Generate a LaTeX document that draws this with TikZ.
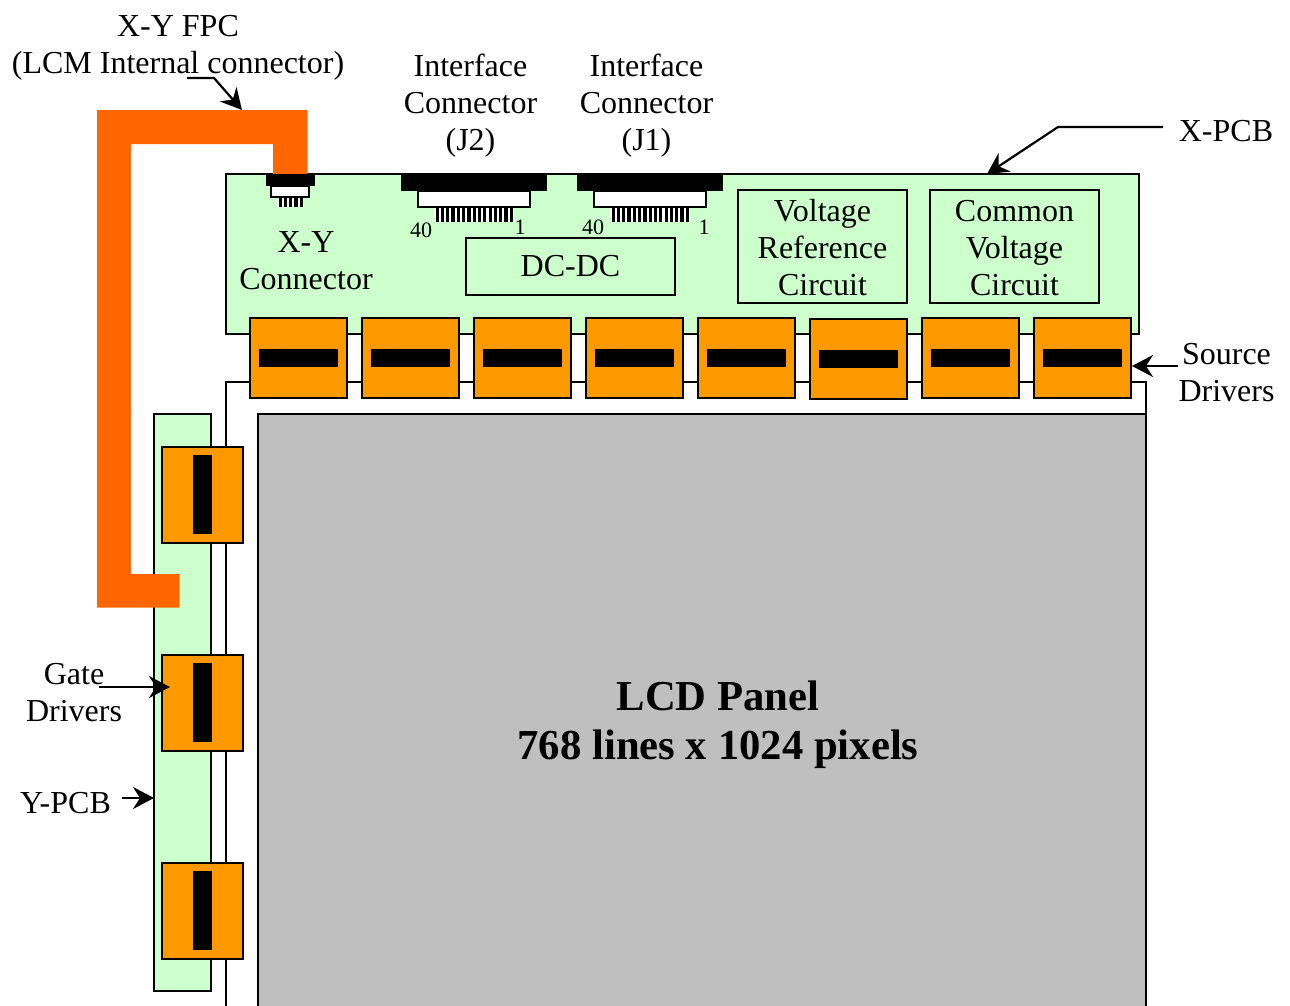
\documentclass[tikz,border=0pt]{standalone}
\usepackage{fontspec}
\setmainfont{Liberation Serif}
\usetikzlibrary{arrows.meta}
\definecolor{pcbgreen}{HTML}{CCFFCC}
\definecolor{drvorange}{HTML}{FF9900}
\definecolor{fpcorange}{HTML}{FF6600}
\definecolor{panelgray}{HTML}{BFBFBF}
\tikzset{
	every node/.style={inner sep=0, outer sep=0},
	lbl/.style={align=center, font=\fontsize{32}{37}\selectfont},
	pinlbl/.style={font=\fontsize{22}{24}\selectfont},
	board/.style={draw, line width=2, fill=pcbgreen},
	circbox/.style={draw, line width=2, fill=pcbgreen, anchor=north west},
	srcbox/.style={draw, line width=2, fill=drvorange, minimum width=97, minimum height=80},
	srcbar/.style={fill=black, minimum width=79, minimum height=18},
	gatebox/.style={draw, line width=2, fill=drvorange, minimum width=81, minimum height=96},
	gatebar/.style={fill=black, minimum width=19, minimum height=79},
	lead/.style={line width=2.2, -{Stealth[length=21, width=22, inset=7]}},
}
\newcommand{\srccell}[1]{\node[srcbox] (#1) at (298,358) {};
					\node[srcbar] (#1bar) at (298.5,358) {};}
\newcommand{\gatecell}[1]{\node[gatebox] (#1) at (202,495) {};
					\node[gatebar] (#1bar) at (202.5,494.5) {};}
\newcommand{\bigconn}[1]{\fill[white] (33,33) rectangle (113,48);
					\draw[line width=15, dash pattern=on 3.2 off 2.1] (34.5,40.5) -- (113,40.5);
					\draw[line width=2, fill=white] (17,17) rectangle (129,33);
					\node[fill=black, minimum width=146, minimum height=17, anchor=north west] (#1) at (0,0) {};}
\begin{document}
\begin{tikzpicture}[x=1pt, y=-1pt]
				\useasboundingbox (0,0) rectangle (1290,1005);

				% panel glass and active area
				\draw[line width=2, fill=white] (226,1010) -- (226,382) -- (1146,382) -- (1146,1010);
				\draw[line width=2, fill=panelgray] (258,1010) -- (258,414) -- (1146,414) -- (1146,1010);
				\node[align=center, font=\bfseries\fontsize{42.7}{49}\selectfont] (panel) at (718,724.5) {LCD Panel\\768 lines x 1024 pixels};

				% boards
				\draw[board] (226,174) rectangle (1139,334);
				\draw[board] (154,414) rectangle (211,991);

				% source drivers
				\srccell{sdA}

				\begin{scope}[xshift = 112]
					\srccell{sdB}
				\end{scope}

				\begin{scope}[xshift = 224]
					\srccell{sdC}
				\end{scope}

				\begin{scope}[xshift = 336]
					\srccell{sdD}
				\end{scope}

				\begin{scope}[xshift = 448]
					\srccell{sdE}
				\end{scope}

				\begin{scope}[xshift = 560, yshift = -1]
					\srccell{sdF}
				\end{scope}

				\begin{scope}[xshift = 672]
					\srccell{sdG}
				\end{scope}

				\begin{scope}[xshift = 784]
					\srccell{sdH}
				\end{scope}

				% gate drivers
				\gatecell{gdA}

				\begin{scope}[yshift = -208]
					\gatecell{gdB}
				\end{scope}

				\begin{scope}[yshift = -416]
					\gatecell{gdC}
				\end{scope}

				% flat cable
				\fill[fpcorange] (97,110) -- (307.5,110) -- (307.5,174) -- (273,174) -- (273,144) -- (131,144) -- (131,574) -- (179.5,574) -- (179.5,607.5) -- (97,607.5) -- cycle;

				% X-Y connector
				\fill[white] (277,197) rectangle (304,207);
				\draw[line width=10, dash pattern=on 3.2 off 2.1] (278.5,202) -- (304,202);
				\draw[line width=2, fill=white] (271,186) rectangle (309,197);
				\node[fill=black, minimum width=49, minimum height=12, anchor=north west] (xyconn) at (266,174) {};

				% interface connectors
				\begin{scope}[shift={(401,174)}]
					\bigconn{jtwo}
				\end{scope}

				\begin{scope}[shift={(577,174)}]
					\bigconn{jone}
				\end{scope}

				\node[pinlbl] (jtwoa) at (421,230) {40};
				\node[pinlbl] (jtwob) at (520,227) {1};
				\node[pinlbl] (jonea) at (593,227) {40};
				\node[pinlbl] (joneb) at (704,227) {1};

				% circuit blocks
				\node[circbox, minimum width=209, minimum height=57] (dcdc) at (466,238) {};
				\node[lbl] at (dcdc.center) {DC-DC};
				\node[circbox, minimum width=169, minimum height=113] (vref) at (738,190) {};
				\node[lbl] at ([yshift=-1.5]vref.center) {Voltage\\Reference\\Circuit};
				\node[circbox, minimum width=169, minimum height=113] (vcom) at (930,190) {};
				\node[lbl] at ([yshift=-1.5]vcom.center) {Common\\Voltage\\Circuit};

				% labels
				\node[lbl] (xyfpc) at (178,48) {X-Y FPC\\(LCM Internal connector)};
				\node[lbl] (jtwolbl) at (470.5,106) {Interface\\Connector\\(J2)};
				\node[lbl] (jonelbl) at (646.5,106) {Interface\\Connector\\(J1)};
				\node[lbl] (xylbl) at (306,261) {X-Y\\Connector};
				\node[lbl] (xpcb) at (1226,131) {X-PCB};
				\node[lbl] (srclbl) at (1226.5,373) {Source\\Drivers};
				\node[lbl] (gatelbl) at (74,693) {Gate\\Drivers};
				\node[lbl] (ypcb) at (65.5,803) {Y-PCB};

				% leader lines
				\coordinate (fpcstart) at (187,78);
				\coordinate (fpctip) at (242,110);
				\coordinate (xpcbstart) at (1163,127);
				\coordinate (xpcbtip) at (987,174);
				\coordinate (srcstart) at (1178,366);
				\coordinate (srctip) at (1132,366);
				\coordinate (gatestart) at (99,687);
				\coordinate (gatetip) at (170,687);
				\coordinate (ypcbstart) at (122,798);
				\coordinate (ypcbtip) at (154,798);

				\draw[lead] (fpcstart) -- (214,78) -- (fpctip);
				\draw[lead] (xpcbstart) -- (1058,127) -- (xpcbtip);
				\draw[lead] (srcstart) -- (srctip);
				\draw[lead] (gatestart) -- (gatetip);
				\draw[lead] (ypcbstart) -- (ypcbtip);

\end{tikzpicture}
\end{document}
